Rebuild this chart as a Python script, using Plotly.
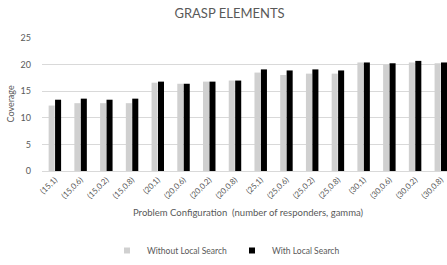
import plotly.graph_objects as go

categories = ["(15,1)", "(15,0.6)", "(15,0.2)", "(15,0.8)",
              "(20,1)", "(20,0.6)", "(20,0.2)", "(20,0.8)",
              "(25,1)", "(25,0.6)", "(25,0.2)", "(25,0.8)",
              "(30,1)", "(30,0.6)", "(30,0.2)", "(30,0.8)"]
without_ls = [12.3, 12.75, 12.75, 12.75,
              16.6, 16.4, 16.8, 17.0,
              18.5, 18.05, 18.3, 18.3,
              20.4, 20.0, 20.4, 20.25]
with_ls = [13.4, 13.6, 13.4, 13.6,
           16.8, 16.4, 16.8, 17.0,
           19.1, 18.9, 19.1, 18.9,
           20.4, 20.25, 20.7, 20.4]
y_ticks = [0, 5, 10, 15, 20, 25]
series_names = ["Without Local Search", "With Local Search"]
series_colors = ["#D0D0D0", "#000000"]

FONT = "Lato"
TXT = "#595959"

W, H = 447, 265
L, T, B = 42, 38, 93
PW, PH = W - L, H - T - B

fig = go.Figure()
for name, vals, col in zip(series_names, [without_ls, with_ls], series_colors):
    fig.add_trace(go.Bar(x=categories, y=vals, name=name, showlegend=False,
                         marker=dict(color=col, line=dict(width=0))))
for name, col in zip(series_names, series_colors):
    fig.add_trace(go.Scatter(x=[None], y=[None], mode="markers", name=name,
                             marker=dict(symbol="square", size=6, color=col)))

fig.update_layout(
    width=W, height=H,
    margin=dict(l=L, r=0, t=T, b=B, pad=0),
    paper_bgcolor="white", plot_bgcolor="white",
    barmode="group", bargap=0.5, bargroupgap=0.06,
    font=dict(family=FONT, color=TXT, size=9),
    title=dict(text="GRASP ELEMENTS", x=229.5 / W, xanchor="center", y=1 - 13 / H,
               yanchor="middle", font=dict(family=FONT, size=13, color=TXT)),
    showlegend=True,
    legend=dict(orientation="h", x=(226 - L) / PW, xanchor="center",
                y=-(252 - (T + PH)) / PH, yanchor="middle",
                font=dict(family=FONT, size=8.5, color=TXT), itemwidth=30,
                traceorder="normal", bgcolor="rgba(0,0,0,0)"),
    xaxis=dict(type="category", range=[-0.5, 15.24], showgrid=False, showline=True,
               linecolor="#D9D9D9", linewidth=1, ticks="", tickangle=-45,
               automargin=False,
               tickfont=dict(family=FONT, size=8, color=TXT)),
    yaxis=dict(range=[0, 25], tickvals=y_ticks, showgrid=True, gridcolor="#D9D9D9",
               gridwidth=1, zeroline=False, showline=False, ticks="", automargin=False,
               tickfont=dict(family=FONT, size=9, color=TXT), ticklabelstandoff=10),
    annotations=[
        dict(text="Problem\u00a0Configuration\u00a0\u00a0(number\u00a0of\u00a0responders,\u00a0gamma)",
             xref="paper", yref="paper", x=(249 - L) / PW, y=-(214 - (T + PH)) / PH,
             xanchor="center", yanchor="middle", showarrow=False,
             font=dict(family=FONT, size=9.5, color=TXT)),
        dict(text="Coverage", xref="paper", yref="paper", x=-(L - 10) / PW, y=0.5,
             xanchor="center", yanchor="middle", showarrow=False, textangle=-90,
             font=dict(family=FONT, size=9, color=TXT)),
    ],
)

fig.write_html(
    "out.html",
    config={"displayModeBar": False},
    post_script="document.body.style.margin='0';document.documentElement.style.overflow='hidden';",
)
